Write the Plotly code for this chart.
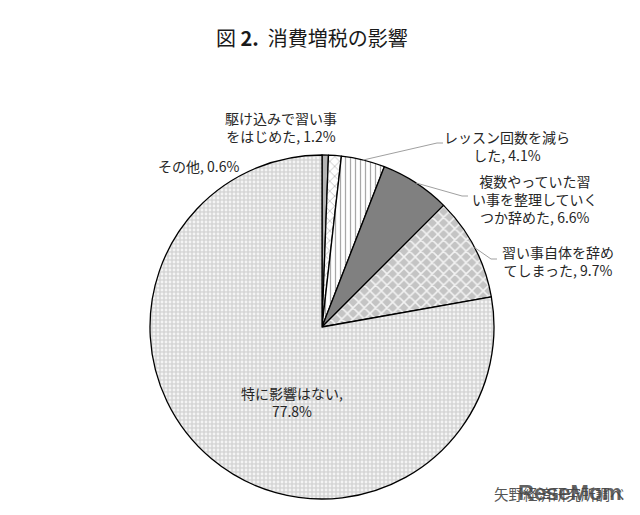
import math
import plotly.graph_objects as go

# ---- data ----
categories = [
    "その他",
    "駆け込みで習い事をはじめた",
    "レッスン回数を減らした",
    "複数やっていた習い事を整理していくつか辞めた",
    "習い事自体を辞めてしまった",
    "特に影響はない",
]
label_texts = [
    "その他, 0.6%",
    "駆け込みで習い事<br>をはじめた, 1.2%",
    "レッスン回数を減ら<br>した, 4.1%",
    "複数やっていた習<br>い事を整理していく<br>つか辞めた, 6.6%",
    "習い事自体を辞め<br>てしまった, 9.7%",
    "特に影響はない,<br>77.8%",
]
values = [0.6, 1.2, 4.1, 6.6, 9.7, 77.8]

# ---- styles ----
OFF = 8                      # page body margin of the browser
W, H = 640 - OFF, 515 - OFF  # figure size so the page fits the window
CX, CY, R = 322, 327, 172    # pie geometry in window pixels
pattern_shapes = ["", "x", "|", "", "x", "."]
bg_colors = ["#b4b4b4", "#ffffff", "#ffffff", "#808080", "#c4c4c4", "#d6d6d6"]
fg_colors = ["#b4b4b4", "#9a9a9a", "#a8a8a8", "#808080", "#f2f2f2", "#f4f4f4"]
pattern_sizes = [6, 7, 5, 6, 8, 4]
pattern_solid = [0.3, 0.15, 0.25, 0.3, 0.35, 0.4]


def px(x):
    return (x - OFF) / W


def py(y):
    return 1 - (y - OFF) / H


fig = go.Figure()
fig.add_trace(go.Pie(
    labels=categories,
    values=values,
    sort=False,
    direction="clockwise",
    rotation=0,
    textinfo="none",
    hoverinfo="label+percent",
    showlegend=False,
    marker=dict(
        colors=bg_colors,
        line=dict(color="#000000", width=1.3),
        pattern=dict(
            shape=pattern_shapes,
            fillmode="replace",
            bgcolor=bg_colors,
            fgcolor=fg_colors,
            size=pattern_sizes,
            solidity=pattern_solid,
        ),
    ),
    domain=dict(x=[px(CX - R), px(CX + R)], y=[py(CY + R), py(CY - R)]),
))

# label positions (window pixels) and leader-line elbow points
label_pos = [
    (198, 166),
    (281, 127),
    (507, 146),
    (535, 199),
    (558, 261),
    (292, 402),
]
leader_end = [None, None, (443, 143), (468, 196), (497, 259), None]

cum = 0.0
total = sum(values)
for i, v in enumerate(values):
    mid = (cum + v / 2) / total * 2 * math.pi
    cum += v
    lx, ly = label_pos[i]
    fig.add_annotation(
        x=px(lx), y=py(ly), xref="paper", yref="paper",
        text=label_texts[i], showarrow=False,
        font=dict(family="Noto Sans CJK JP", size=14, color="#262626"),
        align="center", xanchor="center", yanchor="middle",
    )
    if leader_end[i] is not None:
        sx = CX + R * math.sin(mid)
        sy = CY - R * math.cos(mid)
        ex, ey = leader_end[i]
        fig.add_shape(
            type="path", xref="paper", yref="paper",
            path=f"M {px(sx)} {py(sy)} L {px(ex - 6)} {py(ey)} L {px(ex)} {py(ey)}",
            line=dict(color="#a0a0a0", width=1),
        )

fig.add_annotation(
    x=px(312), y=py(38), xref="paper", yref="paper",
    text="図 <b>2.</b>  消費増税の影響", showarrow=False,
    font=dict(family="Noto Sans CJK JP", size=20, color="#1a1a1a", weight=400),
    xanchor="center", yanchor="middle",
)
fig.add_annotation(
    x=px(627), y=py(493), xref="paper", yref="paper",
    text="矢野経済研究所調べ", showarrow=False,
    font=dict(family="Noto Sans CJK JP", size=14.5, color="#555555"),
    xanchor="right", yanchor="middle",
)
fig.add_annotation(
    x=px(624), y=py(492), xref="paper", yref="paper",
    text="<b>ReseMom</b>", showarrow=False,
    font=dict(family="Liberation Sans", size=22, color="rgba(70,70,70,0.85)"),
    xanchor="right", yanchor="middle",
)

fig.update_layout(
    width=W, height=H,
    margin=dict(l=0, r=0, t=0, b=0),
    paper_bgcolor="#ffffff",
    plot_bgcolor="#ffffff",
)

fig.write_html("out.html")
